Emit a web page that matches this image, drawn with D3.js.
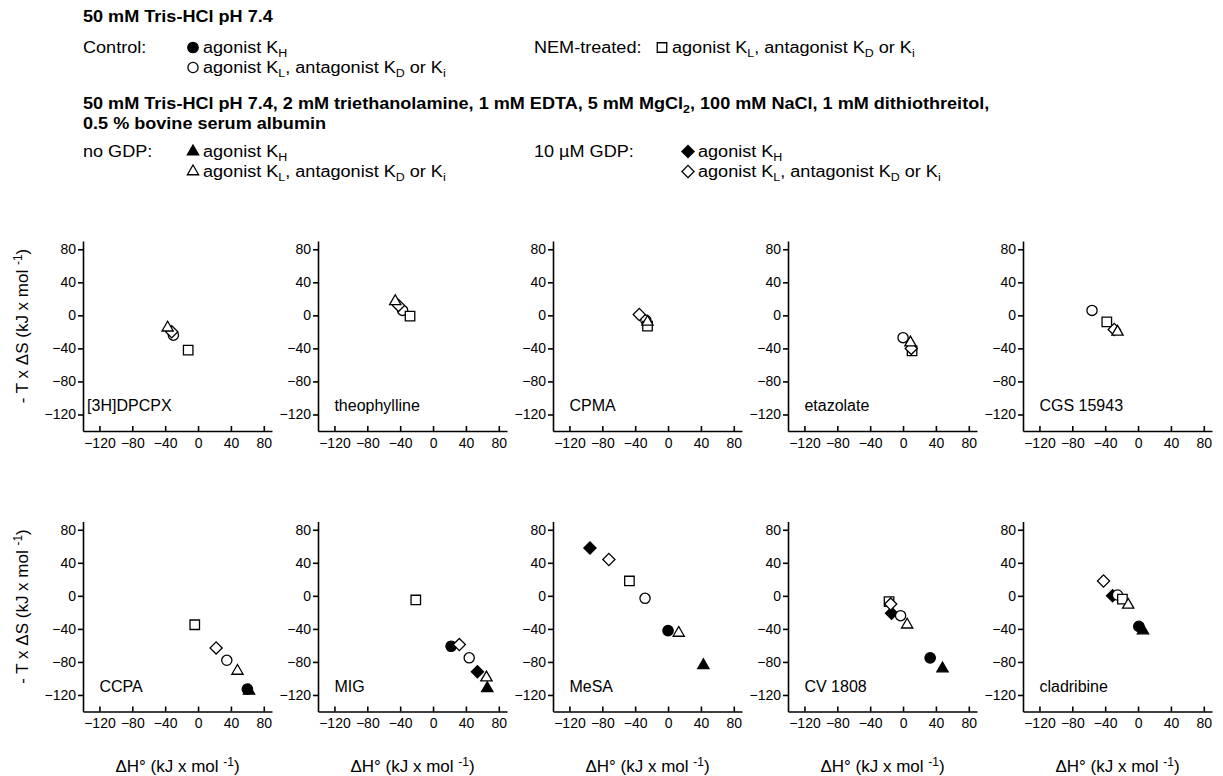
<!DOCTYPE html>
<html>
<head>
<meta charset="utf-8">
<script src="https://cdn.jsdelivr.net/npm/d3@7"></script>
<style>
body { margin: 0; background: #fff; }
svg { display: block; }
text { font-family: "Liberation Sans", Arial, Helvetica, sans-serif; fill: #000; }
</style>
</head>
<body>
<svg id="chart"></svg>
<script>
var panelNames = ["[3H]DPCPX", "theophylline", "CPMA", "etazolate", "CGS 15943",
                  "CCPA", "MIG", "MeSA", "CV 1808", "cladribine"];
var xTicks = [-120, -80, -40, 0, 40, 80];
var yTicks = [80, 40, 0, -40, -80, -120];

// each point: [panel index, dH (kJ/mol), -T x dS (kJ/mol)]
var noGdpKH = [[5, 62, -115], [6, 66, -112], [7, 43, -84], [8, 48, -88], [9, 6, -42]];
var gdpKH = [[6, 54, -92], [7, -95, 58], [8, -14, -21], [9, -31, 0]];
var controlKH = [[5, 60, -113], [6, 22, -61], [7, 0, -42], [8, 33, -75], [9, 1, -37]];
var controlKL = [[0, -30, -24], [1, -37, 6], [2, -27, -6], [3, 0, -27], [4, -56, 6],
                 [5, 35, -78], [6, 44, -75], [7, -28, -3], [8, -3, -24], [9, -25, 1]];
var nemKL = [[0, -12, -42], [1, -28, -1], [2, -25, -13], [3, 11, -43], [4, -38, -8],
             [5, -4, -35], [6, -21, -5], [7, -47, 18], [8, -17, -7], [9, -19, -4]];
var gdpKL = [[0, -32, -20], [1, -42, 12], [2, -35, 1], [3, 10, -40], [4, -29, -17],
             [5, 22, -63], [6, 32, -59], [7, -72, 44], [8, -15, -10], [9, -42, 18]];
var noGdpKL = [[0, -37, -15], [1, -46, 17], [2, -25, -8], [3, 9, -33], [4, -25, -20],
               [5, 48, -91], [6, 65, -99], [7, 13, -45], [8, 5, -35], [9, -12, -11]];

var width = 1223, height = 776;
var svg = d3.select("#chart").attr("width", width).attr("height", height);

var markers = {
  triFilled: { type: d3.symbolTriangle, size: 55, fill: "#000", rotate: 0 },
  diaFilled: { type: d3.symbolSquare, size: 74, fill: "#000", rotate: 45 },
  cirFilled: { type: d3.symbolCircle, size: 85, fill: "#000", rotate: 0 },
  cirOpen: { type: d3.symbolCircle, size: 82, fill: "#fff", rotate: 0 },
  sqOpen: { type: d3.symbolSquare, size: 90, fill: "#fff", rotate: 0 },
  diaOpen: { type: d3.symbolSquare, size: 74, fill: "#fff", rotate: 45 },
  triOpen: { type: d3.symbolTriangle, size: 55, fill: "#fff", rotate: 0 }
};

// drawing order (later ones on top)
var layers = [
  [noGdpKH, markers.triFilled],
  [gdpKH, markers.diaFilled],
  [controlKH, markers.cirFilled],
  [controlKL, markers.cirOpen],
  [nemKL, markers.sqOpen],
  [gdpKL, markers.diaOpen],
  [noGdpKL, markers.triOpen]
];

function drawMarker(sel, m) {
  sel.append("path")
    .attr("d", d3.symbol().type(m.type).size(m.size))
    .attr("fill", m.fill)
    .attr("stroke", "#000")
    .attr("stroke-width", 1.3)
    .attr("transform", m.rotate ? "rotate(" + m.rotate + ")" : null);
}

// ---------- header legend ----------
var head = svg.append("g");
var sx = 1.13; // the original lettering is a bit wider than Arial

// parts: plain strings, or {sub: "x"} for a subscript
function richText(x, y, parts, bold) {
  var t = head.append("text")
    .attr("transform", "translate(" + x + "," + y + ") scale(" + sx + ",1)")
    .style("font-size", "16px")
    .style("font-weight", bold ? "bold" : "normal");
  var shift = 0;
  parts.forEach(function (p) {
    if (typeof p === "string") {
      t.append("tspan").attr("dy", -shift).text(p);
      shift = 0;
    } else {
      t.append("tspan").attr("dy", 4).style("font-size", "11px").text(p.sub);
      shift = 4;
    }
  });
  return t;
}

function legendEntry(x, y, m, parts) {
  var g = head.append("g").attr("transform", "translate(" + x + "," + (y - 5.5) + ")");
  drawMarker(g, m);
  richText(x + 10, y, parts);
}

var klText = ["agonist K", { sub: "L" }, ", antagonist K", { sub: "D" }, " or K", { sub: "i" }];
var khText = ["agonist K", { sub: "H" }];

var c0 = 83, c1 = 534;
richText(c0, 22, ["50 mM Tris-HCl pH 7.4"], true);
richText(c0, 53, ["Control:"]);
legendEntry(193, 53, markers.cirFilled, khText);
legendEntry(193, 73, markers.cirOpen, klText);
richText(c1, 53, ["NEM-treated:"]);
legendEntry(662, 53, markers.sqOpen, klText);

richText(c0, 109, ["50 mM Tris-HCl pH 7.4, 2 mM triethanolamine, 1 mM EDTA, 5 mM MgCl", { sub: "2" },
  ", 100 mM NaCl, 1 mM dithiothreitol,"], true);
richText(c0, 129, ["0.5 % bovine serum albumin"], true);
richText(c0, 157, ["no GDP:"]);
legendEntry(193, 157, markers.triFilled, khText);
legendEntry(193, 177, markers.triOpen, klText);
richText(c1, 157, ["10 \u00b5M GDP:"]);
legendEntry(688, 157, markers.diaFilled, khText);
legendEntry(688, 177, markers.diaOpen, klText);

// ---------- panels ----------
var panelW = 189, panelH = 190;
var lefts = [83, 318, 553, 788, 1023];
var tops = [241, 521.5];

panelNames.forEach(function (name, i) {
  var col = i % 5, row = Math.floor(i / 5);
  var g = svg.append("g").attr("transform", "translate(" + lefts[col] + "," + tops[row] + ")");

  var xScale = d3.scaleLinear().domain([-140, 90]).range([0, panelW]);
  var yScale = d3.scaleLinear().domain([-140, 90]).range([panelH, 0]);

  var xAxis = d3.axisBottom(xScale).tickValues(xTicks).tickSizeInner(-5).tickSizeOuter(0).tickPadding(7);
  var yAxis = d3.axisLeft(yScale).tickValues(yTicks).tickSizeInner(5).tickSizeOuter(0).tickPadding(2);

  var gx = g.append("g").attr("transform", "translate(0," + panelH + ")").call(xAxis);
  var gy = g.append("g").call(yAxis);
  [gx, gy].forEach(function (a) {
    a.selectAll("path, line").attr("stroke", "#000").attr("stroke-width", 1.6);
    a.selectAll("text").style("font-size", "14px").attr("font-family", null);
  });

  g.append("text")
    .attr("x", xScale(i === 0 ? -135 : -120))
    .attr("y", yScale(-116))
    .style("font-size", "16px")
    .text(name);

  layers.forEach(function (layer) {
    layer[0].filter(function (d) { return d[0] === i; }).forEach(function (d) {
      var mg = g.append("g").attr("transform", "translate(" + xScale(d[1]) + "," + yScale(d[2]) + ")");
      drawMarker(mg, layer[1]);
    });
  });

  if (row === 1) {
    var t = g.append("text").attr("x", panelW / 2).attr("y", 250)
      .attr("text-anchor", "middle").style("font-size", "17px");
    t.append("tspan").text("\u0394H\u00b0 (kJ x mol ");
    t.append("tspan").attr("dy", -6).style("font-size", "12px").text("-1");
    t.append("tspan").attr("dy", 6).text(")");
  }
  if (col === 0) {
    var ty = g.append("text")
      .attr("transform", "translate(-55," + (panelH / 2 - 10) + ") rotate(-90)")
      .attr("text-anchor", "middle").style("font-size", "17px");
    ty.append("tspan").text("- T x \u0394S (kJ x mol ");
    ty.append("tspan").attr("dy", -6).style("font-size", "12px").text("-1");
    ty.append("tspan").attr("dy", 6).text(")");
  }
});
</script>
</body>
</html>
